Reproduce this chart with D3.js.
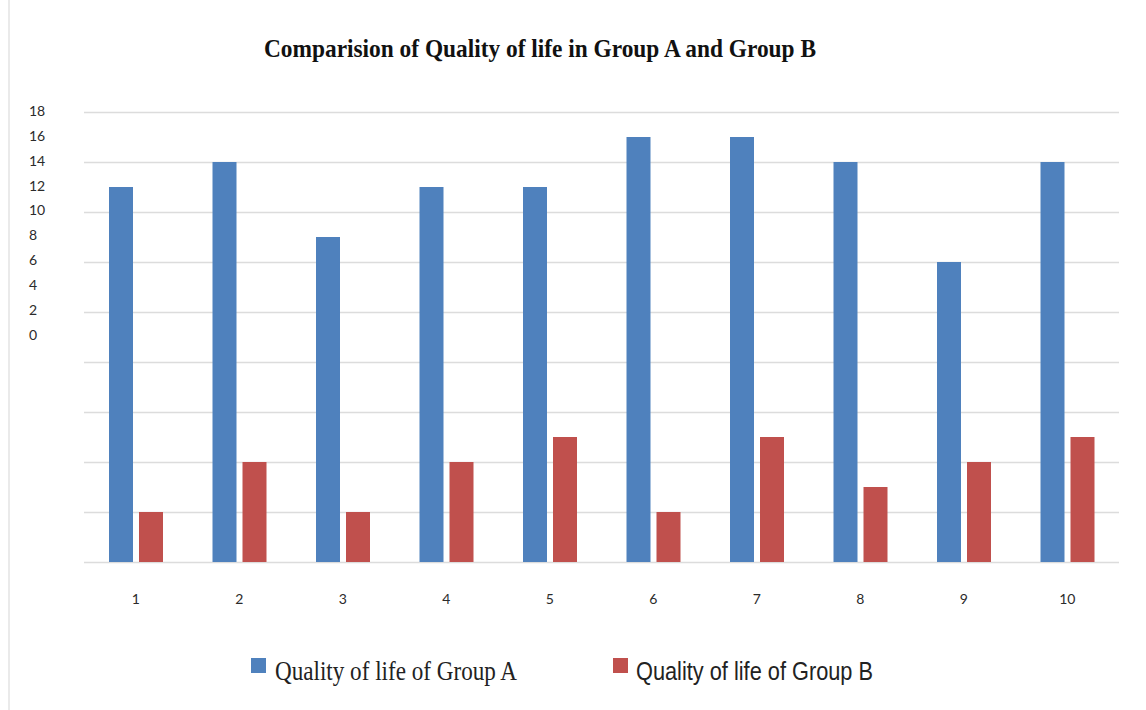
<!DOCTYPE html>
<html>
<head>
<meta charset="utf-8">
<script src="https://cdn.jsdelivr.net/npm/d3@7"></script>
<style>
  html, body { margin: 0; padding: 0; background: #ffffff; }
  svg { display: block; }
</style>
</head>
<body>
<svg id="chart" width="1146" height="710"></svg>
<script>
// Survey rounds and quality-of-life scores per group
const categories = ["1", "2", "3", "4", "5", "6", "7", "8", "9", "10"];
const groupA = [15, 16, 13, 15, 15, 17, 17, 16, 12, 16];
const groupB = [2, 4, 2, 4, 5, 2, 5, 3, 4, 5];
const seriesNames = ["Quality of life of Group A", "Quality of life of Group B"];
const yTickLabels = [0, 2, 4, 6, 8, 10, 12, 14, 16, 18];
const gridValues = [0, 2, 4, 6, 8, 10, 12, 14, 16, 18];

const colors = ["#4F81BD", "#C0504D"];
const series = [groupA, groupB];

const svg = d3.select("#chart");
const W = 1146, H = 710;
const plot = { left: 84, right: 1119, top: 112, bottom: 562 };

svg.append("rect").attr("width", W).attr("height", H).attr("fill", "#ffffff");

// thin frame edge on the left
svg.append("line")
  .attr("x1", 9).attr("x2", 9).attr("y1", 0).attr("y2", H)
  .attr("stroke", "#e3e3e3").attr("stroke-width", 1.5);

// Title
svg.append("text")
  .attr("x", 540).attr("y", 57)
  .attr("text-anchor", "middle")
  .attr("font-family", "'Liberation Serif', 'Times New Roman', serif")
  .attr("font-weight", "bold")
  .attr("font-size", 26)
  .attr("textLength", 552)
  .attr("lengthAdjust", "spacingAndGlyphs")
  .attr("fill", "#111")
  .text("Comparision of Quality of life in Group A and Group B");

// Scales
const x0 = d3.scaleBand().domain(categories).range([plot.left, plot.right]).padding(0);
const x1 = d3.scaleBand().domain([0, 1]).range([25, 79]).paddingInner(0.2).paddingOuter(0);
const y = d3.scaleLinear().domain([0, 18]).range([plot.bottom, plot.top]);
// the value labels sit in a compact column at the top of the axis
const yLabel = d3.scaleLinear().domain([0, 18]).range([335, 111]);

// Gridlines
const grid = svg.append("g")
  .attr("transform", `translate(${plot.left},0)`)
  .call(d3.axisLeft(y).tickValues(gridValues).tickSize(-(plot.right - plot.left)).tickFormat(""));
grid.select(".domain").remove();
grid.selectAll(".tick line").attr("stroke", "#dcdcdc").attr("stroke-width", 1.6);

// Y tick labels
svg.append("g").selectAll("text")
  .data(yTickLabels)
  .join("text")
  .attr("x", 29)
  .attr("y", d => yLabel(d))
  .attr("dy", "0.35em")
  .attr("font-family", "Lato, 'Open Sans', sans-serif")
  .attr("font-size", 14)
  .attr("fill", "#2b2b2b")
  .text(d => d);

// Bars
const groups = svg.append("g").selectAll("g")
  .data(categories)
  .join("g")
  .attr("transform", d => `translate(${x0(d)},0)`);

groups.selectAll("rect")
  .data((d, i) => series.map((s, k) => ({ k, v: s[i] })))
  .join("rect")
  .attr("x", d => x1(d.k))
  .attr("width", x1.bandwidth())
  .attr("y", d => y(d.v))
  .attr("height", d => y(0) - y(d.v))
  .attr("fill", d => colors[d.k]);

// X axis labels
const xAxis = svg.append("g")
  .attr("transform", `translate(0,${plot.bottom})`)
  .call(d3.axisBottom(x0).tickSize(0).tickPadding(32));
xAxis.select(".domain").remove();
xAxis.selectAll("text")
  .attr("font-family", "Lato, 'Open Sans', sans-serif")
  .attr("font-size", 14)
  .attr("fill", "#2b2b2b");

// Legend
const legendItems = [
  { x: 251, tx: 275, len: 242, font: "'Liberation Serif', 'Times New Roman', serif", size: 28 },
  { x: 613, tx: 636, len: 237, font: "'Liberation Sans Narrow', 'Liberation Sans', Arial, sans-serif", size: 25 }
];
const legend = svg.append("g").selectAll("g")
  .data(seriesNames)
  .join("g");
legend.append("rect")
  .attr("x", (d, i) => legendItems[i].x)
  .attr("y", 658)
  .attr("width", 15).attr("height", 15)
  .attr("fill", (d, i) => colors[i]);
legend.append("text")
  .attr("x", (d, i) => legendItems[i].tx)
  .attr("y", 680)
  .attr("font-family", (d, i) => legendItems[i].font)
  .attr("font-size", (d, i) => legendItems[i].size)
  .attr("textLength", (d, i) => legendItems[i].len)
  .attr("lengthAdjust", "spacingAndGlyphs")
  .attr("fill", "#222")
  .text(d => d);
</script>
</body>
</html>
